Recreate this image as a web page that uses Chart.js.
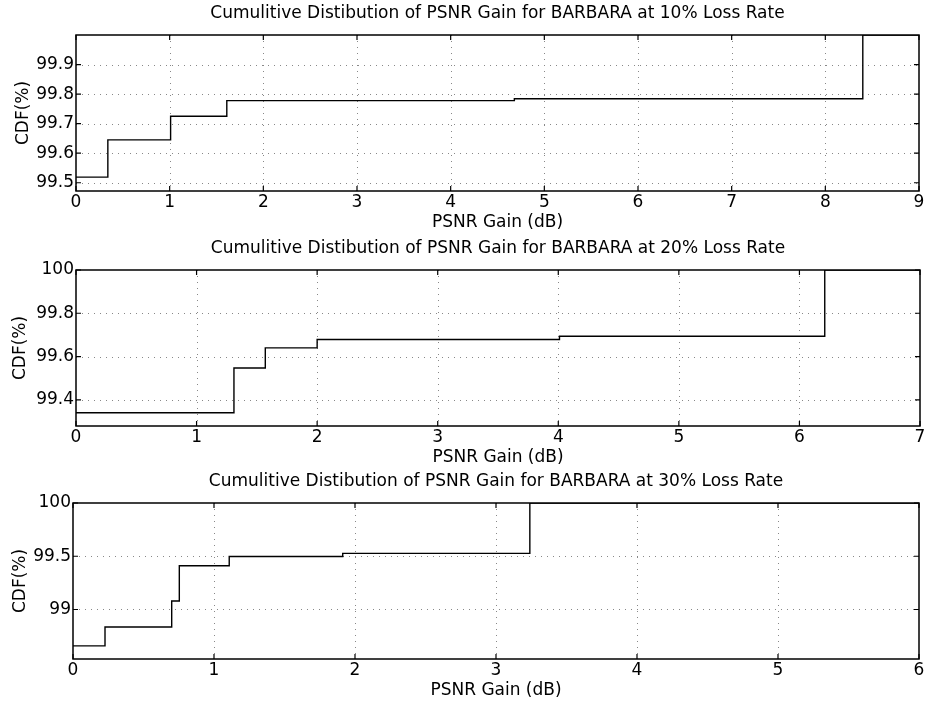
<!DOCTYPE html>
<html>
<head>
<meta charset="utf-8">
<script src="https://cdn.jsdelivr.net/npm/chart.js@4.4.0/dist/chart.umd.min.js"></script>
<style>
    html, body { margin: 0; padding: 0; background: #fff; }
    body { width: 928px; height: 706px; position: relative; overflow: hidden; }
    .panel { position: absolute; left: 0; width: 928px; }
    .panel canvas { display: block; }
</style>
</head>
<body>
<div class="panel"><canvas id="cdf10"></canvas></div>
<div class="panel"><canvas id="cdf20"></canvas></div>
<div class="panel"><canvas id="cdf30"></canvas></div>
<script>
// 10% loss rate
const gain10 = [0, 0.34, 1.01, 1.61, 4.68, 8.40, 9];
const cdf10 = [99.519, 99.645, 99.725, 99.778, 99.784, 100, 100];
const xTicks10 = [0, 1, 2, 3, 4, 5, 6, 7, 8, 9];
const yTicks10 = [99.5, 99.6, 99.7, 99.8, 99.9];

// 20% loss rate
const gain20 = [0, 1.31, 1.57, 2.0, 4.01, 6.21, 7];
const cdf20 = [99.34, 99.547, 99.64, 99.679, 99.694, 100, 100];
const xTicks20 = [0, 1, 2, 3, 4, 5, 6, 7];
const yTicks20 = [99.4, 99.6, 99.8, 100];

// 30% loss rate
const gain30 = [0, 0.227, 0.70, 0.754, 1.108, 1.913, 3.24, 6];
const cdf30 = [98.658, 98.836, 99.079, 99.411, 99.498, 99.527, 100, 100];
const xTicks30 = [0, 1, 2, 3, 4, 5, 6];
const yTicks30 = [99, 99.5, 100];

const titles = [
    'Cumulitive Distibution of PSNR Gain for BARBARA at 10% Loss Rate',
    'Cumulitive Distibution of PSNR Gain for BARBARA at 20% Loss Rate',
    'Cumulitive Distibution of PSNR Gain for BARBARA at 30% Loss Rate'
];

const FONT = 'DejaVu Sans';
const FONT_SIZE = 17;
const HALF_LINE = FONT_SIZE * 1.2 / 2;
const TITLE_H = 35;   // title block above the axes
const XAXIS_H = 45;   // tick labels + x label below the axes

// draws the matlab style box: dotted grid, frame and inward ticks
const boxPlugin = {
    id: 'matlabBox',
    beforeDatasetsDraw(chart) {
        const { ctx, chartArea: a, scales: { x, y } } = chart;
        ctx.save();
        ctx.strokeStyle = '#888';
        ctx.lineWidth = 1;
        ctx.setLineDash([1, 5]);
        x.ticks.forEach(t => {
            const px = Math.round(x.getPixelForValue(t.value)) + 0.5;
            if (px < a.left + 2 || px > a.right - 2) return;
            ctx.beginPath(); ctx.moveTo(px, a.top); ctx.lineTo(px, a.bottom); ctx.stroke();
        });
        y.ticks.forEach(t => {
            const py = Math.round(y.getPixelForValue(t.value)) + 0.5;
            if (py < a.top + 2 || py > a.bottom - 2) return;
            ctx.beginPath(); ctx.moveTo(a.left, py); ctx.lineTo(a.right, py); ctx.stroke();
        });
        ctx.restore();
    },
    afterDatasetsDraw(chart) {
        const { ctx, chartArea: a, scales: { x, y } } = chart;
        const len = 5;
        ctx.save();
        ctx.strokeStyle = '#000';
        ctx.lineWidth = 1.5;
        ctx.strokeRect(a.left, a.top, a.right - a.left, a.bottom - a.top);
        ctx.lineWidth = 1.2;
        ctx.beginPath();
        x.ticks.forEach(t => {
            const px = x.getPixelForValue(t.value);
            ctx.moveTo(px, a.bottom); ctx.lineTo(px, a.bottom - len);
            ctx.moveTo(px, a.top); ctx.lineTo(px, a.top + len);
        });
        y.ticks.forEach(t => {
            const py = y.getPixelForValue(t.value);
            ctx.moveTo(a.left, py); ctx.lineTo(a.left + len, py);
            ctx.moveTo(a.right, py); ctx.lineTo(a.right - len, py);
        });
        ctx.stroke();
        ctx.restore();
    }
};

function makePanel(id, title, gain, cdf, xTicks, yTicks, xMax, yMin, box, yLabelX) {
    const el = document.getElementById(id);
    const top = box.top - TITLE_H;
    el.parentNode.style.top = top + 'px';
    el.width = 928;
    el.height = box.bottom + XAXIS_H - top;

    const font = { family: FONT, size: FONT_SIZE, weight: 'normal' };
    const titleTop = TITLE_H - 21 - HALF_LINE;
    return new Chart(el.getContext('2d'), {
        type: 'line',
        data: {
            datasets: [{
                data: gain.map((g, i) => ({ x: g, y: cdf[i] })),
                stepped: 'before',   // hold each level until the next gain value
                borderColor: '#000',
                borderWidth: 1.4,
                pointRadius: 0,
                fill: false
            }]
        },
        options: {
            responsive: false,
            animation: false,
            devicePixelRatio: 1,
            layout: { padding: { left: 0, right: 928 - box.right, top: 0, bottom: 0 } },
            plugins: {
                legend: { display: false },
                tooltip: { enabled: false },
                title: {
                    display: true,
                    fullSize: false,   // centre over the axes, not the canvas
                    text: title,
                    color: '#000',
                    font: font,
                    padding: { top: titleTop, bottom: TITLE_H - titleTop - 2 * HALF_LINE }
                }
            },
            scales: {
                x: {
                    type: 'linear',
                    min: 0,
                    max: xMax,
                    afterBuildTicks: s => { s.ticks = xTicks.map(v => ({ value: v })); },
                    afterFit: s => { s.height = XAXIS_H; },
                    ticks: { color: '#000', font: font, padding: 12 - HALF_LINE, maxRotation: 0, autoSkip: false, callback: v => String(v) },
                    grid: { display: false, drawTicks: false },
                    border: { display: false },
                    title: { display: true, text: 'PSNR Gain (dB)', color: '#000', font: font, padding: { top: 0, bottom: XAXIS_H - 32 - HALF_LINE } }
                },
                y: {
                    type: 'linear',
                    min: yMin,
                    max: 100,
                    afterBuildTicks: s => { s.ticks = yTicks.map(v => ({ value: v })); },
                    afterFit: s => { s.width = box.left; },
                    ticks: { color: '#000', font: font, padding: 2, autoSkip: false, callback: v => String(v) },
                    grid: { display: false, drawTicks: false },
                    border: { display: false },
                    title: { display: true, text: 'CDF(%)', color: '#000', font: font, padding: { top: yLabelX - HALF_LINE, bottom: 0 } }
                }
            }
        },
        plugins: [boxPlugin]
    });
}

makePanel('cdf10', titles[0], gain10, cdf10, xTicks10, yTicks10, 9, 99.472,
    { left: 76, right: 919, top: 35, bottom: 191 }, 24);
makePanel('cdf20', titles[1], gain20, cdf20, xTicks20, yTicks20, 7, 99.279,
    { left: 76, right: 920, top: 270, bottom: 426 }, 21);
makePanel('cdf30', titles[2], gain30, cdf30, xTicks30, yTicks30, 6, 98.535,
    { left: 73, right: 919, top: 503, bottom: 659 }, 21);
</script>
</body>
</html>
